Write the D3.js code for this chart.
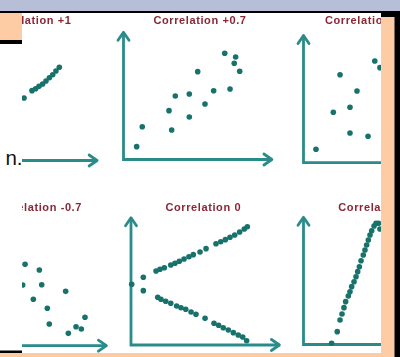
<!DOCTYPE html>
<html>
<head>
<meta charset="utf-8">
<script src="https://cdn.jsdelivr.net/npm/d3@7"></script>
<style>
  html, body { margin: 0; padding: 0; background: #ffffff; overflow: hidden; }
  svg { display: block; }
</style>
</head>
<body>
<svg id="chart" width="400" height="357"></svg>
<script>
// Panel titles, row by row
const titles = ["Correlation +1", "Correlation +0.7", "Correlation +0.3",
                "Correlation -0.7", "Correlation 0", "Correlation 0"];

// Point values for each panel, [x, y] on a 0-10 scale
const corrPlusOne = [[5.38,5.21],[5.95,5.82],[6.21,5.98],[6.45,6.18],[6.71,6.38],
                     [6.95,6.63],[7.19,6.90],[7.43,7.15],[7.66,7.46],[7.90,7.77]];
const corrPlusSeven = [[0.94,1.07],[1.34,2.73],[3.44,2.46],[3.25,4.07],[3.70,5.29],
                       [4.70,5.46],[4.70,3.54],[5.30,7.32],[5.82,4.63],[6.44,5.73],
                       [7.23,8.85],[7.61,5.88],[8.01,8.54],[7.91,8.02],[8.30,7.35]];
const corrPlusThree = [[0.89,1.12],[2.61,7.33],[2.13,4.20],[3.32,4.62],[3.82,5.98],
                       [3.32,2.48],[4.61,2.20],[5.09,8.48],[5.46,7.92]];
const corrMinusSeven = [[4.79,6.78],[5.81,6.31],[5.98,5.08],[4.62,5.06],[5.38,3.87],
                        [7.69,4.53],[6.38,3.12],[6.52,1.81],[7.88,1.03],[8.43,1.58],
                        [8.81,1.39],[9.07,2.37]];
const corrZeroFork = [[0.05,5.06],
  [0.88,5.64],[1.79,6.17],[2.07,6.31],[2.38,6.44],[2.84,6.67],[3.14,6.81],[3.45,6.98],
  [3.79,7.17],[4.14,7.36],[4.45,7.53],[4.93,7.75],[5.36,8.03],[6.07,8.44],[6.41,8.61],
  [6.74,8.78],[7.07,8.98],[7.41,9.17],[7.76,9.42],[8.09,9.67],[8.31,9.86],
  [0.88,4.53],[1.91,3.98],[2.14,3.81],[2.48,3.64],[2.84,3.48],[3.26,3.25],[3.57,3.11],
  [3.91,2.98],[4.29,2.75],[4.64,2.56],[5.29,2.22],[5.93,1.81],[6.26,1.64],[6.59,1.44],
  [6.95,1.25],[7.31,1.03],[7.66,0.83],[7.98,0.67],[8.26,0.36]];
const corrZeroPeak = [[2.01,0.10],[2.41,1.07],[2.61,2.04],[2.75,2.54],[2.89,3.07],
  [3.01,3.57],[3.20,4.04],[3.32,4.40],[3.44,4.82],[3.61,5.23],[3.75,5.65],[3.87,6.07],
  [3.99,6.48],[4.11,6.98],[4.27,7.46],[4.39,7.88],[4.51,8.29],[4.63,8.71],[4.75,9.13],
  [4.87,9.48],[5.04,9.88],[5.18,10.10],[5.36,10.10],[5.46,9.63]];

// Page colours
const SLATE = "#b6bed8", PEACH = "#fdcba4", INK = "#000000";
const AXIS = "#2a8c8a", DOT = "#17726b", TITLE = "#8a2636";

// Panel placement: axis corner, title anchor
const panels = [
  { title: titles[0], pts: corrPlusOne,    cx: -51.3, cy: 160.5, tx: 71.5,  ty: 23.5,  anchor: "end" },
  { title: titles[1], pts: corrPlusSeven,  cx: 123.5, cy: 159.5, tx: 200,   ty: 24,    anchor: "middle" },
  { title: titles[2], pts: corrPlusThree,  cx: 303.5, cy: 162.7, tx: 325,   ty: 24,    anchor: "start" },
  { title: titles[3], pts: corrMinusSeven, cx: -42,   cy: 345.7, tx: 82,    ty: 210.5, anchor: "end" },
  { title: titles[4], pts: corrZeroFork,   cx: 131,   cy: 345,   tx: 203.3, ty: 210.5, anchor: "middle" },
  { title: titles[5], pts: corrZeroPeak,   cx: 303.5, cy: 344.5, tx: 338.3, ty: 210.5, anchor: "start" }
];

const svg = d3.select("#chart");
svg.append("rect").attr("width", 400).attr("height", 357).attr("fill", "#ffffff");

const defs = svg.append("defs");
defs.append("clipPath").attr("id", "imgClip")
  .append("rect").attr("x", 22).attr("y", 13).attr("width", 359).attr("height", 340);
defs.append("filter").attr("id", "soft").attr("x", "-5%").attr("y", "-5%")
  .attr("width", "110%").attr("height", "110%")
  .append("feGaussianBlur").attr("stdDeviation", 0.45);

// Slide frame around the figure
svg.append("rect").attr("x", 0).attr("y", 0).attr("width", 400).attr("height", 11.5).attr("fill", SLATE);
svg.append("rect").attr("x", 0).attr("y", 11).attr("width", 400).attr("height", 2.2).attr("fill", INK);
svg.append("rect").attr("x", 0).attr("y", 13).attr("width", 22).attr("height", 27).attr("fill", PEACH);
svg.append("rect").attr("x", 0).attr("y", 40).attr("width", 22).attr("height", 4).attr("fill", INK);
svg.append("text").attr("x", 22.5).attr("y", 165).attr("text-anchor", "end")
  .attr("font-family", "'Liberation Sans', Arial, sans-serif").attr("font-size", 20.5)
  .attr("fill", "#111").text("n.");
svg.append("rect").attr("x", 0).attr("y", 350.5).attr("width", 22).attr("height", 2.5).attr("fill", INK);
svg.append("rect").attr("x", 0).attr("y", 353).attr("width", 395).attr("height", 4).attr("fill", PEACH);
svg.append("rect").attr("x", 381).attr("y", 17).attr("width", 14).attr("height", 340).attr("fill", PEACH);
svg.append("rect").attr("x", 381).attr("y", 11).attr("width", 14).attr("height", 6).attr("fill", INK);
svg.append("rect").attr("x", 394.5).attr("y", 11).attr("width", 5.5).attr("height", 346).attr("fill", INK);

// The figure itself
const fig = svg.append("g").attr("clip-path", "url(#imgClip)");
fig.append("rect").attr("x", 22).attr("y", 13).attr("width", 359).attr("height", 340).attr("fill", "#ffffff");
const art = fig.append("g").attr("filter", "url(#soft)");

panels.forEach(p => {
  const x = d3.scaleLinear().domain([0, 10]).range([p.cx, p.cx + 140]);
  const y = d3.scaleLinear().domain([0, 10]).range([p.cy, p.cy - 120]);
  const g = art.append("g");
  const reach = 10.6;

  // Axes with open arrowheads
  g.append("path")
    .attr("d", `M${x(reach)},${y(0)} L${x(0)},${y(0)} L${x(0)},${y(reach)}`)
    .attr("fill", "none").attr("stroke", AXIS).attr("stroke-width", 2.8)
    .attr("stroke-linejoin", "miter");
  g.append("path")
    .attr("d", `M${x(0) - 5.5},${y(reach) + 8} L${x(0)},${y(reach)} L${x(0) + 5.5},${y(reach) + 8}`)
    .attr("fill", "none").attr("stroke", AXIS).attr("stroke-width", 2.8)
    .attr("stroke-linecap", "round").attr("stroke-linejoin", "round");
  g.append("path")
    .attr("d", `M${x(reach) - 8},${y(0) - 5.5} L${x(reach)},${y(0)} L${x(reach) - 8},${y(0) + 5.5}`)
    .attr("fill", "none").attr("stroke", AXIS).attr("stroke-width", 2.8)
    .attr("stroke-linecap", "round").attr("stroke-linejoin", "round");

  g.selectAll("circle").data(p.pts).join("circle")
    .attr("cx", d => x(d[0])).attr("cy", d => y(d[1]))
    .attr("r", 2.8).attr("fill", DOT);

  g.append("text")
    .attr("x", p.tx).attr("y", p.ty).attr("text-anchor", p.anchor)
    .attr("font-family", "'Liberation Sans', Arial, sans-serif")
    .attr("font-weight", "bold").attr("font-size", 11)
    .attr("letter-spacing", 0.6).attr("fill", TITLE)
    .text(p.title);
});
</script>
</body>
</html>
